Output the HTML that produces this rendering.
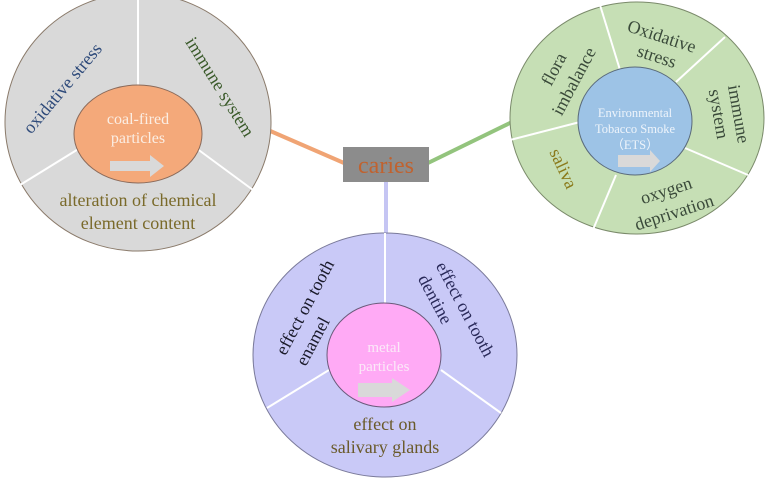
<!DOCTYPE html>
<html><head><meta charset="utf-8"><style>
html,body{margin:0;padding:0;background:#fff;}
svg{display:block;}
text{font-family:"Liberation Serif",serif;}
</style></head><body>
<svg width="767" height="482" viewBox="0 0 767 482" xmlns="http://www.w3.org/2000/svg">
<line x1="268" y1="130" x2="344" y2="163" stroke="#f0a474" stroke-width="4"/>
<line x1="428" y1="163" x2="512" y2="122" stroke="#93c47d" stroke-width="4"/>
<line x1="386" y1="182" x2="386" y2="234" stroke="#c5c5f3" stroke-width="4"/>

<ellipse cx="138" cy="122" rx="133" ry="129" fill="#d9d9d9" stroke="#8a7a6a" stroke-width="1"/>
<line x1="138" y1="0" x2="138" y2="86" stroke="#fff" stroke-width="2"/>
<line x1="20" y1="185" x2="80" y2="148" stroke="#fff" stroke-width="2"/>
<line x1="196" y1="148" x2="253" y2="190" stroke="#fff" stroke-width="2"/>
<ellipse cx="138" cy="134" rx="64" ry="49" fill="#f4a97a" stroke="#8a6a5a" stroke-width="1"/>
<text x="138" y="124" font-size="16" fill="#fbeee4" text-anchor="middle">coal-fired</text>
<text x="138" y="143" font-size="16" fill="#fbeee4" text-anchor="middle">particles</text>
<polygon points="110,161 150,161 150,155 164,166 150,177 150,171 110,171" fill="#d9d9d9"/>
<text transform="translate(67,92) rotate(-50)" font-size="18" fill="#2e4a7a" text-anchor="middle">oxidative stress</text>
<text transform="translate(215,90) rotate(58)" font-size="18" fill="#3a5a2a" text-anchor="middle">immune system</text>
<text x="138" y="206" font-size="18" fill="#7a6a2a" text-anchor="middle">alteration of chemical</text>
<text x="138" y="229" font-size="18" fill="#7a6a2a" text-anchor="middle">element content</text>

<ellipse cx="637" cy="118" rx="127" ry="116" fill="#c6dfb5" stroke="#7a8a6a" stroke-width="1"/>
<line x1="600" y1="5" x2="620" y2="70" stroke="#fff" stroke-width="2"/>
<line x1="725" y1="37" x2="676" y2="82" stroke="#fff" stroke-width="2"/>
<line x1="510" y1="140" x2="580" y2="122" stroke="#fff" stroke-width="2"/>
<line x1="685" y1="148" x2="748" y2="175" stroke="#fff" stroke-width="2"/>
<line x1="616" y1="175" x2="592" y2="232" stroke="#fff" stroke-width="2"/>
<ellipse cx="635" cy="121" rx="57" ry="54" fill="#9dc3e6" stroke="#5a6a7a" stroke-width="1"/>
<text x="635" y="117" font-size="12.5" fill="#eef4fb" text-anchor="middle">Environmental</text>
<text x="635" y="133" font-size="12.5" fill="#eef4fb" text-anchor="middle">Tobacco Smoke</text>
<text x="635" y="149" font-size="12.5" fill="#eef4fb" text-anchor="middle">（ETS）</text>
<polygon points="618,155 650,155 650,150 660,161 650,172 650,167 618,167" fill="#d9d9d9"/>
<text transform="translate(660,42) rotate(18)" font-size="18" fill="#3a4a3a" text-anchor="middle">Oxidative</text>
<text transform="translate(655,62) rotate(18)" font-size="18" fill="#3a4a3a" text-anchor="middle">stress</text>
<text transform="translate(733,115) rotate(80)" font-size="18" fill="#3a4a3a" text-anchor="middle">immune</text>
<text transform="translate(713,115) rotate(80)" font-size="18" fill="#3a4a3a" text-anchor="middle">system</text>
<text transform="translate(559,72) rotate(-62)" font-size="18" fill="#3a4a3a" text-anchor="middle">flora</text>
<text transform="translate(579,84) rotate(-62)" font-size="18" fill="#3a4a3a" text-anchor="middle">imbalance</text>
<text transform="translate(558,171) rotate(65)" font-size="18" fill="#8a7a1a" text-anchor="middle">saliva</text>
<text transform="translate(668,196) rotate(-18)" font-size="18" fill="#3a4a3a" text-anchor="middle">oxygen</text>
<text transform="translate(676,218) rotate(-18)" font-size="18" fill="#3a4a3a" text-anchor="middle">deprivation</text>

<rect x="343" y="147" width="86" height="35" fill="#8c8c8c"/>
<text x="386" y="173" font-size="24" fill="#c0622f" text-anchor="middle">caries</text>

<ellipse cx="385" cy="355" rx="132" ry="122" fill="#c9c9f7" stroke="#7a7a9a" stroke-width="1"/>
<line x1="385" y1="233" x2="385" y2="303" stroke="#fff" stroke-width="2"/>
<line x1="267" y1="408" x2="329" y2="370" stroke="#fff" stroke-width="2"/>
<line x1="441" y1="370" x2="501" y2="413" stroke="#fff" stroke-width="2"/>
<ellipse cx="384" cy="355" rx="57" ry="52" fill="#ffaaf5" stroke="#6a5a7a" stroke-width="1"/>
<text x="384" y="352" font-size="15" fill="#fbeaf8" text-anchor="middle">metal</text>
<text x="384" y="371" font-size="15" fill="#fbeaf8" text-anchor="middle">particles</text>
<polygon points="358,383 392,383 392,378 410,390 392,402 392,397 358,397" fill="#d9d9d9"/>
<text transform="translate(310,310) rotate(-62)" font-size="18" fill="#1a1a2a" text-anchor="middle">effect on tooth</text>
<text transform="translate(318,344) rotate(-62)" font-size="18" fill="#1a1a2a" text-anchor="middle">enamel</text>
<text transform="translate(460,312) rotate(62)" font-size="18" fill="#2a2a5a" text-anchor="middle">effect on tooth</text>
<text transform="translate(430,302) rotate(62)" font-size="18" fill="#2a2a5a" text-anchor="middle">dentine</text>
<text x="385" y="430" font-size="18" fill="#6a5a2a" text-anchor="middle">effect on</text>
<text x="385" y="453" font-size="18" fill="#6a5a2a" text-anchor="middle">salivary glands</text>
</svg>
</body></html>
